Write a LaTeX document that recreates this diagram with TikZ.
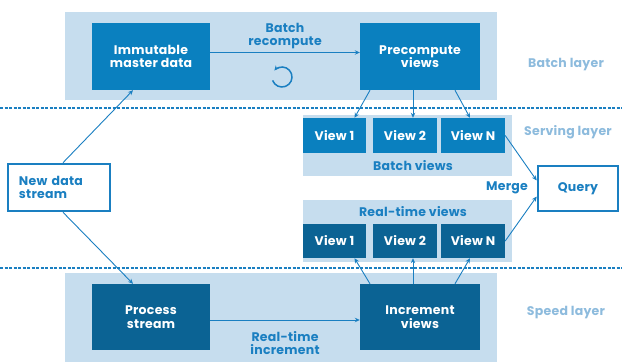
\documentclass[tikz,border=0pt]{standalone}
\usepackage{fontspec}
\setmainfont{Poppins}[LetterSpace=2]
\usepackage{tikz}
\usetikzlibrary{arrows.meta}
\definecolor{lambg}{HTML}{C6DDEE}
\definecolor{batchblue}{HTML}{0A80BF}
\definecolor{speedblue}{HTML}{0B6394}
\definecolor{linkblue}{HTML}{1A7FC1}
\definecolor{layertext}{HTML}{8DBBDD}
\begin{document}
\begin{tikzpicture}[x=1pt,y=-1pt,
  font=\fontsize{12.5}{13.5}\selectfont\bfseries,
  area/.style={fill=lambg,inner sep=0pt},
  batchbox/.style={fill=batchblue,text=white,inner sep=0pt,align=center},
  speedbox/.style={fill=speedblue,text=white,inner sep=0pt,align=center},
  inlabel/.style={text=linkblue,align=center,inner sep=0pt},
  layerlabel/.style={text=layertext,inner sep=0pt},
  outbox/.style={draw=linkblue,line width=2.6pt,fill=white,inner sep=0pt},
  link/.style={draw=linkblue,line width=0.9pt,-{Stealth[length=5pt,width=4.5pt]}},
  divider/.style={draw=linkblue,line width=1.3pt,dash pattern=on 3pt off 1.5pt}]
\useasboundingbox (0,0) rectangle (622,363);

\node[area,minimum width=432pt,minimum height=88pt] (batcharea) at (281,56) {};
\node[area,minimum width=432pt,minimum height=89pt] (speedarea) at (281,317.5) {};
\node[area,minimum width=209pt,minimum height=61pt] (batchviews) at (407.5,145.5) {};
\node[area,minimum width=209pt,minimum height=62pt] (rtviews) at (407.5,231) {};

\draw[divider] (0,108) -- (622,108);
\draw[divider] (0,268) -- (622,268);

\node[batchbox,minimum width=118pt,minimum height=67pt] (master) at (151,56.5)
{Immutable\\master data};
\node[batchbox,minimum width=120pt,minimum height=67pt] (precompute) at (420,56.5)
{Precompute\\views};
\node[speedbox,minimum width=118pt,minimum height=66pt] (process) at (151,317)
{Process\\stream};
\node[speedbox,minimum width=120pt,minimum height=66pt] (increment) at (420,317)
{Increment\\views};

\node[batchbox,minimum width=63pt,minimum height=35pt] (bview1) at (334.5,135.5) {View 1};
\node[batchbox,minimum width=64pt,minimum height=35pt] (bview2) at (405,135.5) {View 2};
\node[batchbox,minimum width=64pt,minimum height=35pt] (bviewN) at (473,135.5) {View N};
\node[speedbox,minimum width=63pt,minimum height=34pt] (rview1) at (334.5,241) {View 1};
\node[speedbox,minimum width=64pt,minimum height=34pt] (rview2) at (405,241) {View 2};
\node[speedbox,minimum width=64pt,minimum height=34pt] (rviewN) at (473,241) {View N};

\node[outbox,minimum width=102pt,minimum height=47pt,text width=80pt,align=left,text=linkblue]
(newdata) at (59,187.5) {New data\\stream};
\node[outbox,minimum width=80pt,minimum height=45pt,text=linkblue] (query) at (578,188.5) {Query};

\node[inlabel] (recompute) at (285,36) {Batch\\recompute};
\node[inlabel] (rtincrement) at (285,343) {Real-time\\increment};
\node[inlabel] (bvlabel) at (413,166) {Batch views};
\node[inlabel] (rvlabel) at (413,212) {Real-time views};
\node[inlabel,anchor=east] (merge) at (528,188) {Merge};

\node[layerlabel] (batchlayer) at (566,65) {Batch layer};
\node[layerlabel] (servinglayer) at (568,132) {Serving layer};
\node[layerlabel] (speedlayer) at (566,313) {Speed layer};

\coordinate (loop) at (282,77);
\draw[link,line width=1.5pt] ([shift={(-200:10)}]loop) arc[start angle=-200,end angle=-500,radius=10];

\draw[link] ([yshift=4pt]master.east) -- ([yshift=4pt]precompute.west);
\draw[link] ([yshift=-3pt]process.east) -- ([yshift=-3pt]increment.west);
\draw[link] ([xshift=4pt]newdata.north) -- ([xshift=-18pt]master.south);
\draw[link] ([xshift=4pt]newdata.south) -- ([xshift=-18pt]process.north);

\draw[link] ([xshift=-50pt]precompute.south) -- ([xshift=20pt]bview1.north);
\draw[link] ([xshift=-7pt]precompute.south) -- ([xshift=8pt]bview2.north);
\draw[link] ([xshift=35pt]precompute.south) -- ([xshift=-3pt]bviewN.north);
\draw[link] ([xshift=-50pt]increment.north) -- ([xshift=20pt]rview1.south);
\draw[link] ([xshift=-7pt]increment.north) -- ([xshift=8pt]rview2.south);
\draw[link] ([xshift=35pt]increment.north) -- ([xshift=-3pt]rviewN.south);

\draw[link] (bviewN.east) -- ([yshift=8pt]query.west);
\draw[link] (rviewN.east) -- ([yshift=-8pt]query.west);
\end{tikzpicture}
\end{document}
